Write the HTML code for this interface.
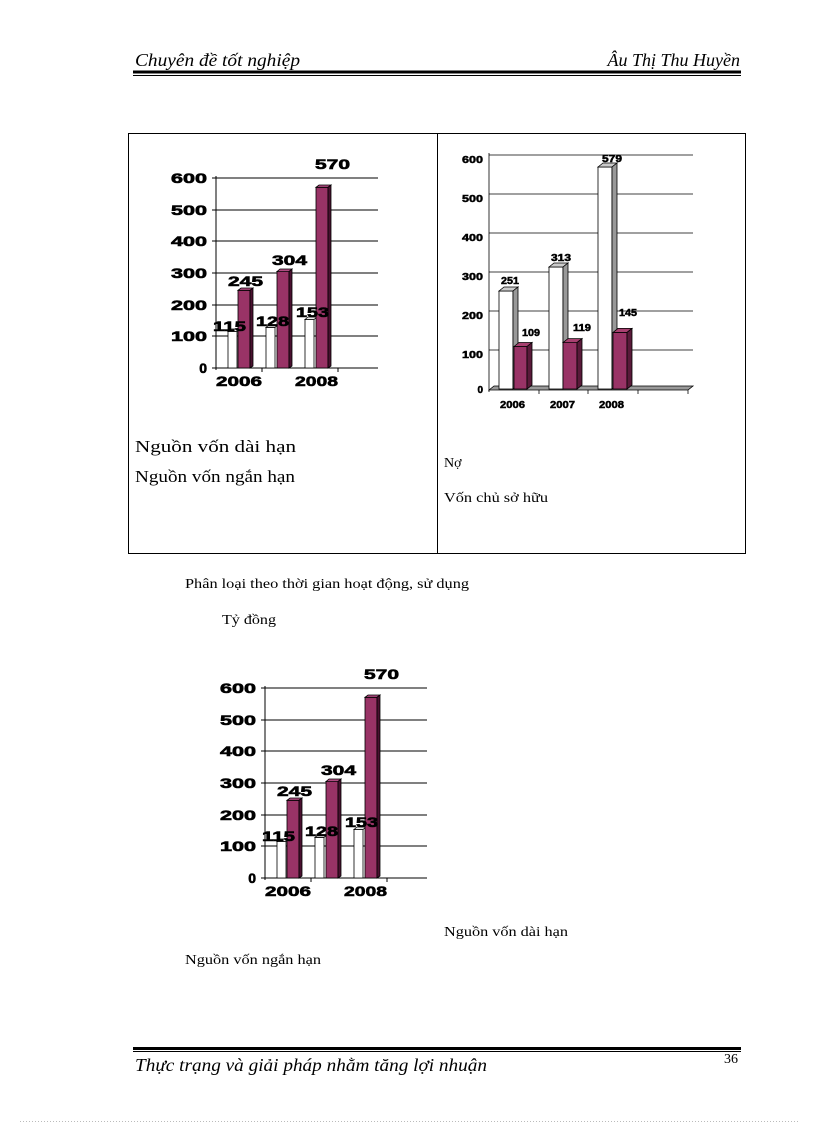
<!DOCTYPE html>
<html><head><meta charset="utf-8"><style>
html,body{margin:0;padding:0;background:#fff}
svg{display:block}
.s{font-family:"Liberation Serif",serif}
.b{font-family:"Liberation Sans",sans-serif;font-weight:bold}
</style></head><body>
<svg width="816" height="1123" viewBox="0 0 816 1123" xmlns="http://www.w3.org/2000/svg">
<text x="135" y="66" class="s" font-size="18" font-style="italic" textLength="165" lengthAdjust="spacingAndGlyphs">Chuyên đề tốt nghiệp</text>
<text x="740" y="66" class="s" font-size="18" font-style="italic" text-anchor="end">Âu Thị Thu Huyền</text>
<rect x="133" y="70.5" width="608" height="3" fill="#000"/>
<rect x="133" y="75" width="608" height="1" fill="#000"/>

<rect x="128.5" y="133.5" width="617" height="420" fill="none" stroke="#000"/>
<line x1="437.5" y1="133" x2="437.5" y2="554" stroke="#000"/>

<defs>
<g id="c1">
<g stroke="#000" stroke-width="1">
<line x1="216" y1="178" x2="378" y2="178"/><line x1="216" y1="210" x2="378" y2="210"/>
<line x1="216" y1="241" x2="378" y2="241"/><line x1="216" y1="273" x2="378" y2="273"/>
<line x1="216" y1="305" x2="378" y2="305"/><line x1="216" y1="336" x2="378" y2="336"/>
<line x1="216" y1="368" x2="378" y2="368"/><line x1="216" y1="176" x2="216" y2="370"/>
<line x1="212" y1="178" x2="216" y2="178"/><line x1="212" y1="210" x2="216" y2="210"/><line x1="212" y1="241" x2="216" y2="241"/><line x1="212" y1="273" x2="216" y2="273"/><line x1="212" y1="305" x2="216" y2="305"/><line x1="212" y1="336" x2="216" y2="336"/><line x1="212" y1="368" x2="216" y2="368"/>
<line x1="262" y1="368" x2="262" y2="372"/><line x1="338" y1="368" x2="338" y2="372"/>
</g>
<g stroke="#000" stroke-width="0.8">
<rect x="228" y="331.5" width="9" height="36.5" fill="#fff"/><polygon points="228,331.5 231,329 240,329 237,331.5" fill="#eee"/>
<rect x="238" y="290.3" width="12" height="77.7" fill="#993366"/><polygon points="238,290.3 241,288 253,288 250,290.3" fill="#b04a80"/><polygon points="250,290.3 253,288 253,366 250,368" fill="#4a1030"/>
<rect x="266" y="327.4" width="9" height="40.6" fill="#fff"/><polygon points="266,327.4 269,325 278,325 275,327.4" fill="#eee"/>
<rect x="277" y="271.6" width="12" height="96.4" fill="#993366"/><polygon points="277,271.6 280,269 292,269 289,271.6" fill="#b04a80"/><polygon points="289,271.6 292,269 292,366 289,368" fill="#4a1030"/>
<rect x="305" y="319.5" width="9" height="48.5" fill="#fff"/><polygon points="305,319.5 308,317 317,317 314,319.5" fill="#eee"/>
<rect x="316" y="187.3" width="12" height="180.7" fill="#993366"/><polygon points="316,187.3 319,185 331,185 328,187.3" fill="#b04a80"/><polygon points="328,187.3 331,185 331,366 328,368" fill="#4a1030"/>
</g>
<g class="b" font-size="14" text-anchor="end" stroke="#000" stroke-width="0.6">
<text x="207" y="183" textLength="36" lengthAdjust="spacingAndGlyphs">600</text><text x="207" y="215" textLength="36" lengthAdjust="spacingAndGlyphs">500</text><text x="207" y="246" textLength="36" lengthAdjust="spacingAndGlyphs">400</text><text x="207" y="278" textLength="36" lengthAdjust="spacingAndGlyphs">300</text><text x="207" y="310" textLength="36" lengthAdjust="spacingAndGlyphs">200</text><text x="207" y="341" textLength="36" lengthAdjust="spacingAndGlyphs">100</text><text x="207" y="373">0</text>
</g>
<g class="b" font-size="14" stroke="#000" stroke-width="0.6">
<text x="213" y="331" textLength="33" lengthAdjust="spacingAndGlyphs">115</text><text x="228" y="286" textLength="35" lengthAdjust="spacingAndGlyphs">245</text><text x="256" y="326" textLength="33" lengthAdjust="spacingAndGlyphs">128</text><text x="272" y="265" textLength="35" lengthAdjust="spacingAndGlyphs">304</text><text x="296" y="317" textLength="33" lengthAdjust="spacingAndGlyphs">153</text><text x="315" y="169" textLength="35" lengthAdjust="spacingAndGlyphs">570</text>
<text x="216" y="386" textLength="46" lengthAdjust="spacingAndGlyphs">2006</text><text x="295" y="386" textLength="43" lengthAdjust="spacingAndGlyphs">2008</text>
</g>
</g>
</defs>
<use href="#c1"/>
<use href="#c1" transform="translate(49,510)"/>

<!-- chart 2 -->
<g stroke="#000" stroke-width="0.8">
<line x1="489" y1="155" x2="693" y2="155"/><line x1="489" y1="194" x2="693" y2="194"/><line x1="489" y1="233" x2="693" y2="233"/><line x1="489" y1="272" x2="693" y2="272"/><line x1="489" y1="311" x2="693" y2="311"/><line x1="489" y1="350" x2="693" y2="350"/>
<line x1="489" y1="153" x2="489" y2="392"/>
<polygon points="489,390 494,386 693,386 688,390" fill="#999"/>
<line x1="539" y1="390" x2="539" y2="394"/><line x1="588" y1="390" x2="588" y2="394"/><line x1="638" y1="390" x2="638" y2="394"/><line x1="688" y1="390" x2="688" y2="394"/>
<rect x="499" y="291" width="14" height="98" fill="#fff"/><polygon points="499,291 504,287 518,287 513,291" fill="#ccc"/><polygon points="513,291 518,287 518,385 513,389" fill="#999"/>
<rect x="514" y="346.5" width="13" height="42.5" fill="#993366"/><polygon points="514,346.5 519,342.5 532,342.5 527,346.5" fill="#a84070"/><polygon points="527,346.5 532,342.5 532,385 527,389" fill="#5a1a3a"/>
<rect x="549" y="267" width="14" height="122" fill="#fff"/><polygon points="549,267 554,263 568,263 563,267" fill="#ccc"/><polygon points="563,267 568,263 568,385 563,389" fill="#999"/>
<rect x="563" y="342.6" width="14" height="46.4" fill="#993366"/><polygon points="563,342.6 568,338.6 582,338.6 577,342.6" fill="#a84070"/><polygon points="577,342.6 582,338.6 582,385 577,389" fill="#5a1a3a"/>
<rect x="598" y="167" width="14" height="222" fill="#fff"/><polygon points="598,167 603,163 617,163 612,167" fill="#ccc"/><polygon points="612,167 617,163 617,385 612,389" fill="#999"/>
<rect x="613" y="332.4" width="14" height="56.6" fill="#993366"/><polygon points="613,332.4 618,328.4 632,328.4 627,332.4" fill="#a84070"/><polygon points="627,332.4 632,328.4 632,385 627,389" fill="#5a1a3a"/>
</g>
<g class="b" font-size="10" text-anchor="end" stroke="#000" stroke-width="0.5">
<text x="483" y="163" textLength="21" lengthAdjust="spacingAndGlyphs">600</text><text x="483" y="202" textLength="21" lengthAdjust="spacingAndGlyphs">500</text><text x="483" y="241" textLength="21" lengthAdjust="spacingAndGlyphs">400</text><text x="483" y="280" textLength="21" lengthAdjust="spacingAndGlyphs">300</text><text x="483" y="319" textLength="21" lengthAdjust="spacingAndGlyphs">200</text><text x="483" y="358" textLength="21" lengthAdjust="spacingAndGlyphs">100</text><text x="483" y="393">0</text>
</g>
<g class="b" font-size="10" stroke="#000" stroke-width="0.5">
<text x="501" y="284" textLength="18" lengthAdjust="spacingAndGlyphs">251</text><text x="522" y="336" textLength="18" lengthAdjust="spacingAndGlyphs">109</text><text x="551" y="261" textLength="20" lengthAdjust="spacingAndGlyphs">313</text><text x="573" y="331" textLength="18" lengthAdjust="spacingAndGlyphs">119</text><text x="602" y="162" textLength="20" lengthAdjust="spacingAndGlyphs">579</text><text x="619" y="316" textLength="18" lengthAdjust="spacingAndGlyphs">145</text>
<text x="500" y="408" textLength="25" lengthAdjust="spacingAndGlyphs">2006</text><text x="550" y="408" textLength="25" lengthAdjust="spacingAndGlyphs">2007</text><text x="599" y="408" textLength="25" lengthAdjust="spacingAndGlyphs">2008</text>
</g>

<g class="s" lengthAdjust="spacingAndGlyphs">
<text x="135" y="452" font-size="17" textLength="161" lengthAdjust="spacingAndGlyphs">Nguồn vốn dài hạn</text>
<text x="135" y="482" font-size="17" textLength="160" lengthAdjust="spacingAndGlyphs">Nguồn vốn ngắn hạn</text>
<text x="444" y="467" font-size="14">Nợ</text>
<text x="444" y="502" font-size="14" textLength="104" lengthAdjust="spacingAndGlyphs">Vốn chủ sở hữu</text>
<text x="185" y="588" font-size="14" textLength="284" lengthAdjust="spacingAndGlyphs">Phân loại theo thời gian  hoạt động, sử dụng</text>
<text x="222" y="624" font-size="14" textLength="54" lengthAdjust="spacingAndGlyphs">Tỷ đồng</text>
<text x="444" y="936" font-size="14" textLength="124" lengthAdjust="spacingAndGlyphs">Nguồn vốn dài hạn</text>
<text x="185" y="964" font-size="14" textLength="136" lengthAdjust="spacingAndGlyphs">Nguồn vốn ngắn hạn</text>
</g>

<rect x="133" y="1047" width="608" height="3" fill="#000"/>
<rect x="133" y="1051" width="608" height="1" fill="#000"/>
<text x="135" y="1071" class="s" font-size="18" font-style="italic" textLength="352" lengthAdjust="spacingAndGlyphs">Thực trạng và giải pháp nhằm tăng lợi nhuận</text>
<text x="738" y="1063" class="s" font-size="14" text-anchor="end">36</text>
<line x1="20" y1="1121.5" x2="800" y2="1121.5" stroke="#bbb" stroke-dasharray="1,2"/>
</svg>
</body></html>
